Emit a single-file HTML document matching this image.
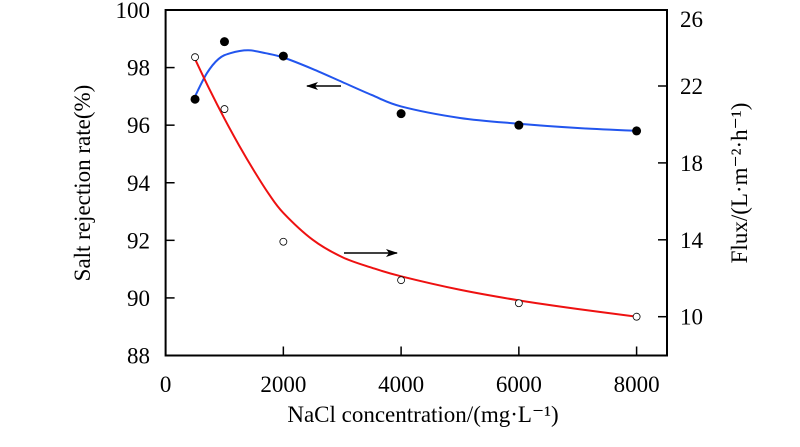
<!DOCTYPE html>
<html><head><meta charset="utf-8"><style>
body{margin:0;background:#fff;}
svg text{font-family:"Liberation Serif","DejaVu Serif","Times New Roman",serif;fill:#000;}
</style></head><body>
<svg id="chart" width="800" height="442" viewBox="0 0 800 442">
<defs><marker id="ah" markerWidth="12" markerHeight="8" refX="11" refY="4" orient="auto" markerUnits="userSpaceOnUse"><path d="M0,0 L12,4 L0,8 L3,4 Z" fill="#000"/></marker></defs>
<g id="g"></g>
</svg>
<script>
const xTicks=[0,2000,4000,6000,8000];
const leftTicks=[100,98,96,94,92,90,88];
const rightTicks=[26,22,18,14,10];
const concX=[500,1000,2000,4000,6000,8000];
const rejection=[96.9,98.9,98.4,96.4,96.0,95.8];
const flux=[23.5,20.8,13.9,11.9,10.7,10.0];
const rejFitX=[500,700,900,1100,1400,1700,2000,2500,3000,3500,4000,5000,6000,7000,8000];
const rejFitY=[97.0,97.8,98.3,98.5,98.6,98.5,98.35,97.95,97.5,97.05,96.65,96.25,96.05,95.9,95.8];
const fluxFitX=[500,750,1000,1250,1500,1750,2000,2500,3000,3500,4000,5000,6000,7000,8000];
const fluxFitY=[23.4,21.8,20.3,18.9,17.6,16.4,15.4,14.0,13.1,12.55,12.1,11.4,10.85,10.4,10.0];
const L=165.6,R=667,T=10,B=355.5;
const X=v=>L+v*(117.75/2000);
const YL=v=>T+(100-v)*(B-T)/12;
const YR=v=>316.7-(v-10)*(76.9/4);
const g=document.getElementById('g');
const NS='http://www.w3.org/2000/svg';
const FF='Liberation Serif, DejaVu Serif, serif';
function mk(t,a,txt){const e=document.createElementNS(NS,t);for(const k in a)e.setAttribute(k,a[k]);if(txt!==undefined){e.textContent=txt;e.setAttribute('font-family',FF);}g.appendChild(e);return e;}
let e=mk('rect',{x:L,y:T,width:R-L,height:B-T,fill:'none',stroke:'#000','stroke-width':2});


xTicks.forEach(v=>{
 if(v>0){e=mk('line',{x1:X(v),x2:X(v),y1:B,y2:B-9,stroke:'#000','stroke-width':1.5});
 
 }
 e=mk('text',{x:X(v),y:392,'font-size':23,'text-anchor':'middle'},v);
 
 
});
leftTicks.forEach(v=>{
 if(v<100&&v>88){e=mk('line',{x1:L,x2:L+9,y1:YL(v),y2:YL(v),stroke:'#000','stroke-width':1.5});
 
 }
 e=mk('text',{x:150,y:YL(v)+8,'font-size':23,'text-anchor':'end'},v);
 
 
});
rightTicks.forEach(v=>{
 const y=v==26?T:YR(v);
 if(v<26){e=mk('line',{x1:R,x2:R-9,y1:y,y2:y,stroke:'#000','stroke-width':1.5});
 
 }
 e=mk('text',{x:680,y:(v==26?19:y)+8,'font-size':23,'text-anchor':'start'},v);
 
 
});
function curve(xs,ys,yf){
 const p=xs.map((x,i)=>[X(x),yf(ys[i])]);
 let d='M'+p[0][0]+','+p[0][1];
 for(let i=0;i<p.length-1;i++){
  const p0=p[i-1]||p[i],p1=p[i],p2=p[i+1],p3=p[i+2]||p2;
  d+=` C${p1[0]+(p2[0]-p0[0])/6},${p1[1]+(p2[1]-p0[1])/6} ${p2[0]-(p3[0]-p1[0])/6},${p2[1]-(p3[1]-p1[1])/6} ${p2[0]},${p2[1]}`;
 }
 return d;
}
e=mk('path',{d:curve(rejFitX,rejFitY,YL),fill:'none',stroke:'#2255ee','stroke-width':2});


e=mk('path',{d:curve(fluxFitX,fluxFitY,YR),fill:'none',stroke:'#ee1111','stroke-width':2});


concX.forEach((x,i)=>{
 e=mk('circle',{cx:X(x),cy:YL(rejection[i]),r:4.5,fill:'#000'});
 
 
 e=mk('circle',{cx:X(x),cy:YR(flux[i]),r:3.5,fill:'#fff',stroke:'#000','stroke-width':0.8});
 
 
});
e=mk('line',{x1:341,y1:86,x2:307,y2:86,stroke:'#000','stroke-width':1.5,'marker-end':'url(#ah)'});


e=mk('line',{x1:344,y1:253,x2:397,y2:253,stroke:'#000','stroke-width':1.5,'marker-end':'url(#ah)'});


e=mk('text',{x:423,y:422,'font-size':23,'text-anchor':'middle'},'NaCl concentration/(mg·L⁻¹)');


e=mk('text',{x:0,y:0,'font-size':23,'text-anchor':'middle',transform:'translate(90,183) rotate(-90)'},'Salt rejection rate(%)');


e=mk('text',{x:0,y:0,'font-size':23,'text-anchor':'middle',transform:'translate(747,183) rotate(-90)'},'Flux/(L·m⁻²·h⁻¹)');


</script>
</body></html>
